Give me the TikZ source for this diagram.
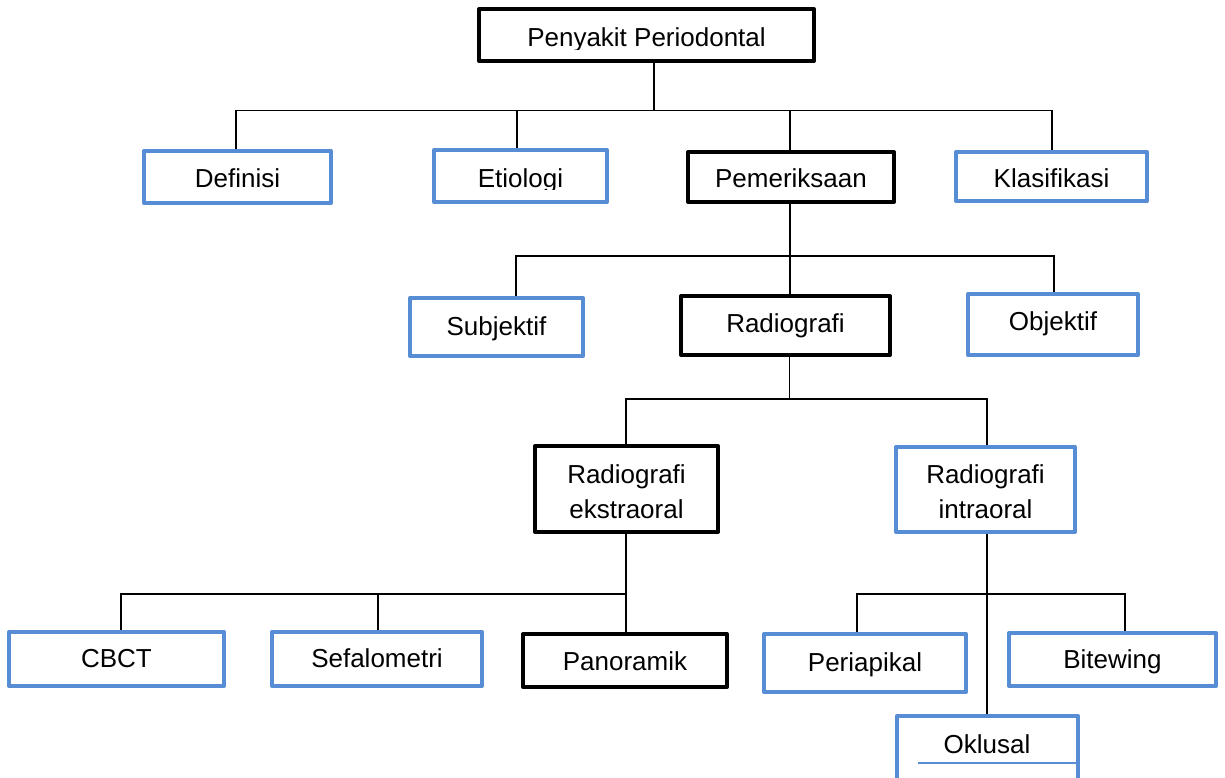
\documentclass[tikz,border=0pt]{standalone}
\usepackage{fontspec}
\setmainfont{Liberation Sans}
\usetikzlibrary{calc,backgrounds}
\definecolor{boxblue}{RGB}{86,141,213}
\tikzset{
  box/.style={draw, line width=4pt, line join=round, fill=white, inner sep=0pt, outer sep=0pt},
  blackbox/.style={box, draw=black},
  bluebox/.style={box, draw=boxblue},
  conn/.style={draw=black, line width=1.4pt},
  lbl/.style={anchor=base, inner sep=0pt, outer sep=0pt, font=\fontsize{26pt}{31pt}\selectfont}
}
\begin{document}
\begin{tikzpicture}[x=1pt,y=-1pt]
\clip (0,0) rectangle (1225,778);

% boxes
\path (646.5,35) node[blackbox, minimum width=335pt, minimum height=52pt] (top) {};
\path (237.5,177) node[bluebox, minimum width=187pt, minimum height=52pt] (def) {};
\path (520.5,176) node[bluebox, minimum width=173pt, minimum height=52pt] (eti) {};
\path (791,177) node[blackbox, minimum width=206pt, minimum height=50pt] (pem) {};
\path (1051.5,176.5) node[bluebox, minimum width=191pt, minimum height=49pt] (kla) {};
\path (496.5,327) node[bluebox, minimum width=173pt, minimum height=58pt] (sub) {};
\path (785.5,325.5) node[blackbox, minimum width=209pt, minimum height=59pt] (rad) {};
\path (1053,324.5) node[bluebox, minimum width=170pt, minimum height=61pt] (obj) {};
\path (626.5,489) node[blackbox, minimum width=183pt, minimum height=86pt] (eks) {};
\path (985.5,489.5) node[bluebox, minimum width=179pt, minimum height=85pt] (intra) {};
\path (116.5,659) node[bluebox, minimum width=215pt, minimum height=54pt] (cbct) {};
\path (377,659) node[bluebox, minimum width=210pt, minimum height=54pt] (sef) {};
\path (625,660.5) node[blackbox, minimum width=204pt, minimum height=53pt] (pan) {};
\path (865,663) node[bluebox, minimum width=202pt, minimum height=58pt] (peri) {};
\path (1112.5,659.5) node[bluebox, minimum width=207pt, minimum height=53pt] (bite) {};
\path (987.5,757) node[bluebox, minimum width=181pt, minimum height=82pt] (okl) {};

% junctions
\coordinate (j1) at (654,110.5);
\coordinate (j2) at (790,256);
\coordinate (j3) at (789.5,399);
\coordinate (j4) at (626,594);
\coordinate (j5) at (987,594);

\begin{scope}[on background layer]
\fill[white] (0,0) rectangle (1225,778);
% level 1
\draw[conn] ($(top.south)+(7.5,0)$) -- (j1);
\draw[conn] ($(def.north)+(-1.5,0)$) |- (j1);
\draw[conn] ($(eti.north)+(-3.5,0)$) |- (j1);
\draw[conn] ($(pem.north)+(-1,0)$) |- (j1);
\draw[conn] ($(kla.north)+(0.5,0)$) |- (j1);
% level 2
\draw[conn] ($(pem.south)+(-1,0)$) -- (j2);
\draw[conn] ($(sub.north)+(19.5,0)$) |- (j2);
\draw[conn] ($(rad.north)+(4.5,0)$) |- (j2);
\draw[conn] ($(obj.north)+(1,0)$) |- (j2);
% level 3
\draw[conn] ($(rad.south)+(4,0)$) -- (j3);
\draw[conn] ($(eks.south)+(-0.5,0)$) |- (j3);
\draw[conn] ($(intra.south)+(1.5,0)$) |- (j3);
% level 4 left
\draw[conn] ($(eks.south)+(-0.5,0)$) -- ($(pan.north)+(1,0)$);
\draw[conn] ($(cbct.north)+(4.5,0)$) |- (j4);
\draw[conn] ($(sef.north)+(1,0)$) |- (j4);
% level 4 right
\draw[conn] ($(intra.south)+(1.5,0)$) -- ($(okl.north)+(-0.5,0)$);
\draw[conn] ($(peri.north)+(-8,0)$) |- (j5);
\draw[conn] ($(bite.north)+(12.5,0)$) |- (j5);
\end{scope}

% labels
\begin{scope}
\clip (0,0) rectangle (1225,49.5);
\node[lbl] (top-t) at (646.5,47) {Penyakit Periodontal};
\end{scope}
\node[lbl] (def-t) at (237.5,187) {Definisi};
\begin{scope}
\clip (0,0) rectangle (1225,189.5);
\node[lbl] (eti-t) at (520.5,187) {Etiologi};
\end{scope}
\node[lbl] (pem-t) at (791,188) {Pemeriksaan};
\node[lbl] (kla-t) at (1051.5,188) {Klasifikasi};
\node[lbl] (sub-t) at (496.5,335) {Subjektif};
\node[lbl] (rad-t) at (785.5,332) {Radiografi};
\node[lbl] (obj-t) at (1053,330) {Objektif};
\node[lbl] (eks-t1) at (626.5,483) {Radiografi};
\node[lbl] (eks-t2) at (626.5,518) {ekstraoral};
\node[lbl] (intra-t1) at (985.5,483) {Radiografi};
\node[lbl] (intra-t2) at (985.5,518) {intraoral};
\node[lbl] (cbct-t) at (116.5,667) {CBCT};
\node[lbl] (sef-t) at (377,667) {Sefalometri};
\node[lbl] (pan-t) at (625,670) {Panoramik};
\node[lbl] (peri-t) at (865,671) {Periapikal};
\node[lbl] (bite-t) at (1112.5,668) {Bitewing};
\node[lbl] (okl-t) at (987,753) {Oklusal};
\draw[boxblue, line width=1.2pt] (918,763) -- (1076,763);
\end{tikzpicture}
\end{document}
